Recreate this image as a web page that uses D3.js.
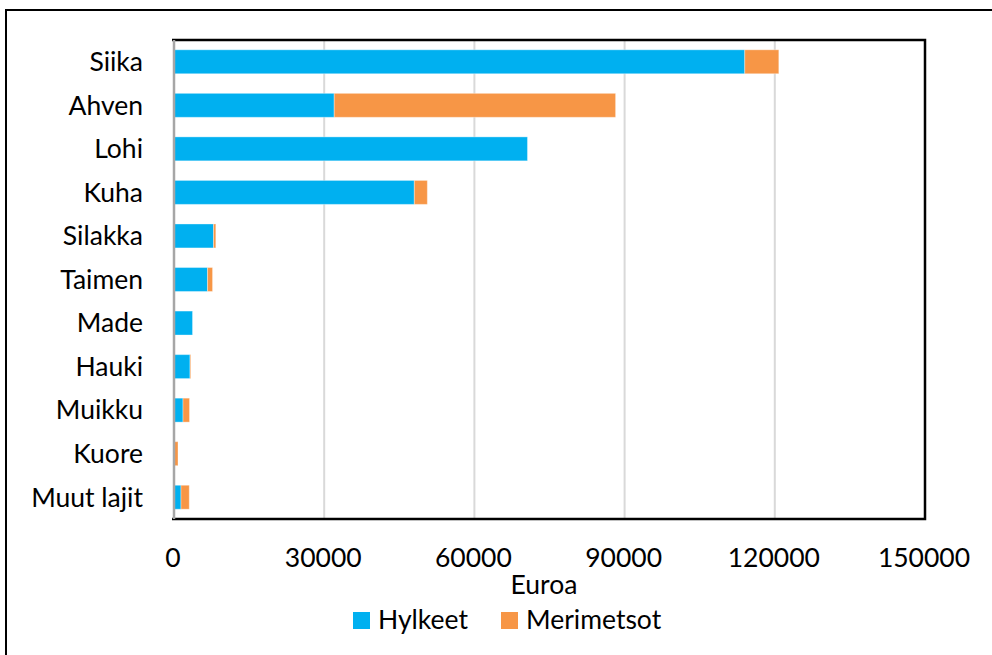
<!DOCTYPE html>
<html>
<head>
<meta charset="utf-8">
<script src="https://cdn.jsdelivr.net/npm/d3@7"></script>
<style>
  html, body { margin: 0; padding: 0; background: #fff; }
  svg { display: block; }
  text { font-family: Lato, "Liberation Sans", sans-serif; fill: #000; }
</style>
</head>
<body>
<svg id="chart" width="992" height="655"></svg>
<script>
const categories = ["Siika", "Ahven", "Lohi", "Kuha", "Silakka", "Taimen", "Made", "Hauki", "Muikku", "Kuore", "Muut lajit"];
const hylkeet = [114000, 32000, 70600, 48000, 7900, 6700, 3700, 3200, 1800, 0, 1400];
const merimetsot = [6800, 56200, 0, 2600, 450, 1000, 0, 150, 1300, 800, 1650];
const xTicks = [0, 30000, 60000, 90000, 120000, 150000];
const seriesNames = ["Hylkeet", "Merimetsot"];
const colors = ["#00B0F0", "#F79646"];

const svg = d3.select("#chart");
const W = 992, H = 655;
const plot = {left: 174, right: 925, top: 40, bottom: 519};
const fontSize = "26.5px";

// outer frame
svg.append("rect")
  .attr("x", 6).attr("y", 10)
  .attr("width", W + 20).attr("height", H + 20)
  .attr("fill", "none").attr("stroke", "#000").attr("stroke-width", 2);

const x = d3.scaleLinear().domain([0, 150000]).range([plot.left, plot.right]);
const y = d3.scaleBand().domain(categories).range([plot.top, plot.bottom])
  .paddingInner(0.45).paddingOuter(0.225);

// gridlines
svg.append("g")
  .selectAll("line")
  .data(xTicks.slice(1))
  .join("line")
  .attr("x1", d => x(d)).attr("x2", d => x(d))
  .attr("y1", plot.top).attr("y2", plot.bottom)
  .attr("stroke", "#D9D9D9").attr("stroke-width", 2);

// stacked bars
const rows = categories.map((c, i) => ({cat: c, Hylkeet: hylkeet[i], Merimetsot: merimetsot[i]}));
const stack = d3.stack().keys(seriesNames)(rows);

svg.append("g")
  .selectAll("g")
  .data(stack)
  .join("g")
  .attr("fill", (d, i) => colors[i])
  .selectAll("rect")
  .data(d => d.filter(s => s[1] > s[0]))
  .join("rect")
  .attr("x", d => x(d[0]))
  .attr("y", d => y(d.data.cat))
  .attr("width", d => x(d[1]) - x(d[0]))
  .attr("height", y.bandwidth())
  .attr("stroke", "#fff").attr("stroke-opacity", 0.35).attr("stroke-width", 1);

// plot border (top, right, bottom)
svg.append("path")
  .attr("d", `M${plot.left - 2},${plot.top} H${plot.right} V${plot.bottom} H${plot.left - 2}`)
  .attr("fill", "none").attr("stroke", "#000").attr("stroke-width", 2.5);

// left axis line
svg.append("line")
  .attr("x1", plot.left).attr("x2", plot.left)
  .attr("y1", plot.top).attr("y2", plot.bottom)
  .attr("stroke", "#A6A6A6").attr("stroke-width", 2.5);

// category labels
svg.append("g")
  .selectAll("text")
  .data(categories)
  .join("text")
  .attr("x", 143)
  .attr("y", d => y(d) + y.bandwidth() / 2)
  .attr("dy", "0.35em")
  .attr("text-anchor", "end")
  .style("font-size", fontSize)
  .text(d => d);

// x tick labels
svg.append("g")
  .selectAll("text")
  .data(xTicks)
  .join("text")
  .attr("x", d => x(d) - 1)
  .attr("y", 567)
  .attr("text-anchor", "middle")
  .style("font-size", fontSize)
  .text(d => d);

// axis title
svg.append("text")
  .attr("x", 544).attr("y", 594)
  .attr("text-anchor", "middle")
  .style("font-size", fontSize)
  .text("Euroa");

// legend
const legendX = [353, 501];
const legend = svg.append("g")
  .selectAll("g")
  .data(seriesNames)
  .join("g")
  .attr("transform", (d, i) => `translate(${legendX[i]},612)`);
legend.append("rect")
  .attr("width", 17).attr("height", 17)
  .attr("fill", (d, i) => colors[i]);
legend.append("text")
  .attr("x", 25).attr("y", 17)
  .style("font-size", fontSize)
  .text(d => d);
</script>
</body>
</html>
